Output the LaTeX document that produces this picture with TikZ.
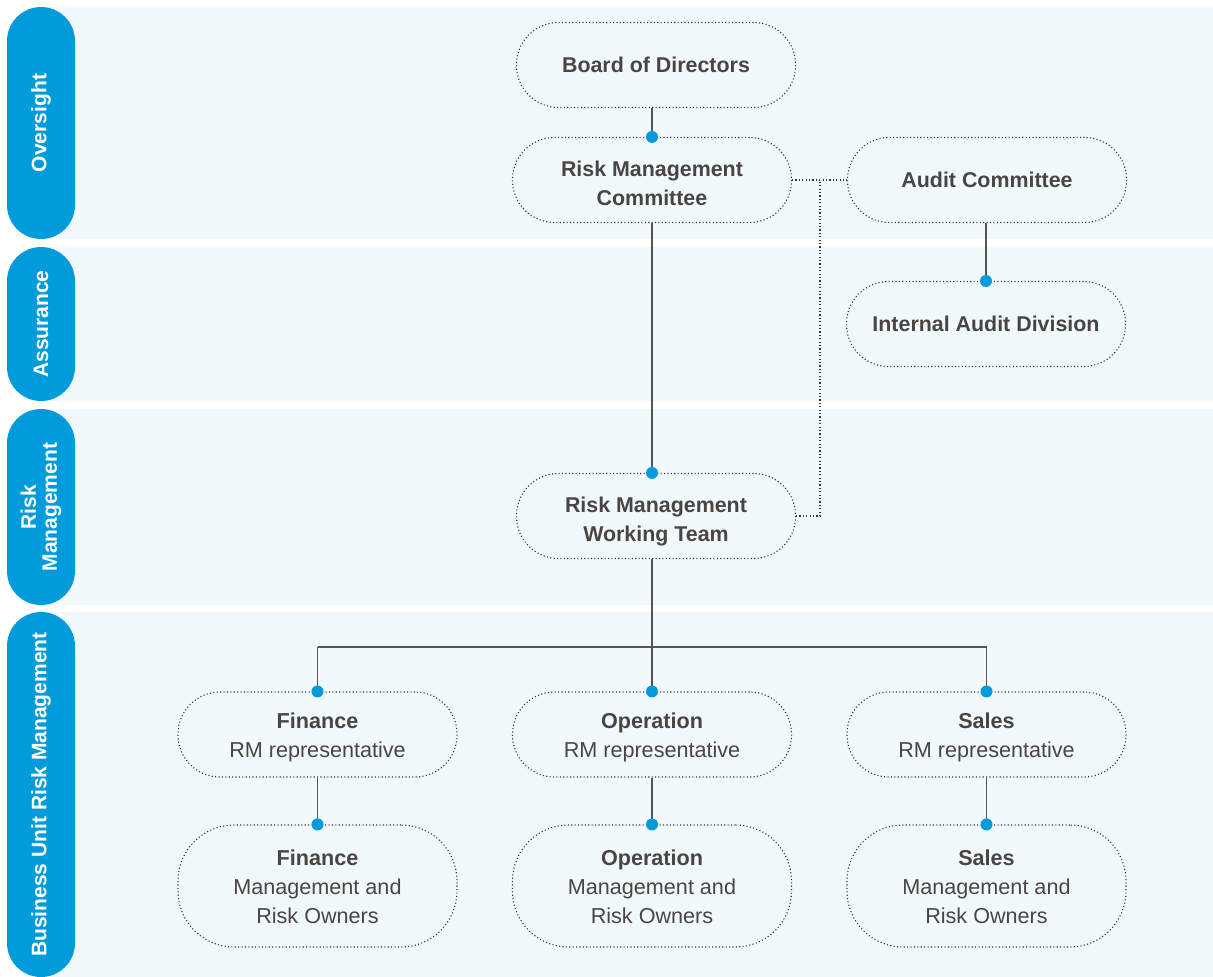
\documentclass[tikz,border=0pt]{standalone}
\usepackage{fontspec}
\setmainfont{Liberation Sans}
\usetikzlibrary{calc}

\definecolor{bandfill}{HTML}{F1F9FD}
\definecolor{pillblue}{HTML}{009BDB}
\definecolor{inkgray}{HTML}{4A4543}
\definecolor{linegray}{HTML}{58534F}
\definecolor{dotgray}{HTML}{333333}

\tikzset{
  band/.style={fill=bandfill, draw=none},
  pill/.style={rotate=90, fill=pillblue, text=white, rounded corners=34pt,
    minimum height=68pt, inner sep=0pt, align=center,
    font=\fontsize{21}{21}\selectfont\bfseries},
  unit/.style={draw=dotgray, line width=1.1pt, dash pattern=on 1.1pt off 2.3pt,
    rounded corners=42pt, minimum width=279pt, minimum height=85pt,
    inner sep=0pt, align=center, text=inkgray,
    font=\fontsize{21.6}{29}\selectfont},
  boldunit/.style={unit, font=\fontsize{21.4}{29}\selectfont\bfseries},
  tallunit/.style={unit, rounded corners=56pt, minimum height=122pt},
  % two-line text blocks sit a little lower than the plain box centre
  twoline/.style={text height=50.6pt},
  threeline/.style={text height=75.6pt},
  link/.style={draw=linegray, line width=1.3pt},
  dotlink/.style={draw=dotgray, line width=1.1pt, dash pattern=on 1.1pt off 2.3pt},
  joint/.style={fill=pillblue, draw=none}
}

\begin{document}
\begin{tikzpicture}[x=1pt, y=-1pt]
  \useasboundingbox (0,0) rectangle (1213,977);

  % horizontal bands behind the four tiers
  \fill[band] (41,7)   rectangle (1213,239);
  \fill[band] (41,247) rectangle (1213,401);
  \fill[band] (41,409) rectangle (1213,605);
  \fill[band] (41,612) rectangle (1213,977);

  % tier labels
  \node[pill, minimum width=232pt] (tOversight) at (41,123) {Oversight};
  \node[pill, minimum width=154pt] (tAssurance) at (41,324) {Assurance};
  \node[pill, minimum width=196pt] (tRisk) at (41,507) {Risk\\Management};
  \node[pill, minimum width=365pt] (tBusiness) at (41,794.5) {Business Unit Risk Management};

  % organisation units
  \node[boldunit] (board) at (656,65) {Board of Directors};
  \node[boldunit, twoline] (rmc) at (652,180) {Risk Management\\Committee};
  \node[boldunit] (audit) at (987,180) {Audit Committee};
  \node[boldunit] (iad) at (986,324) {Internal Audit Division};
  \node[boldunit, twoline, text depth=0pt] (rmwt) at (656,516) {Risk Management\\Working Team};

  \node[unit, twoline] (finrep) at (317.5,734.5) {\textbf{Finance}\\RM representative};
  \node[unit, twoline] (oprep)  at (652,734.5)   {\textbf{Operation}\\RM representative};
  \node[unit, twoline] (salrep) at (986.5,734.5) {\textbf{Sales}\\RM representative};

  \node[tallunit, threeline] (finown) at (317.5,886) {\textbf{Finance}\\Management and\\Risk Owners};
  \node[tallunit, threeline] (opown)  at (652,886)   {\textbf{Operation}\\Management and\\Risk Owners};
  \node[tallunit, threeline] (salown) at (986.5,886) {\textbf{Sales}\\Management and\\Risk Owners};

  % reporting lines
  \draw[link] (board.south -| rmc.north) -- (rmc.north);
  \draw[link] (rmc.south) -- (rmc.south |- rmwt.north);
  \draw[link] (iad.north |- audit.south) -- (iad.north);

  \coordinate (bus) at (652,647);
  \draw[link] (rmc.south |- rmwt.south) -- (bus);
  \draw[link] (finrep.north |- bus) -- (salrep.north |- bus);
  \draw[link] (finrep.north |- bus) -- (finrep.north);
  \draw[link] (oprep.north |- bus) -- (oprep.north);
  \draw[link] (salrep.north |- bus) -- (salrep.north);

  \draw[link] (finrep.south) -- (finown.north);
  \draw[link] (oprep.south) -- (opown.north);
  \draw[link] (salrep.south) -- (salown.north);

  % dotted advisory links
  \coordinate (tap) at (820,180);
  \draw[dotlink] (rmc.east) -- (audit.west);
  \draw[dotlink] (rmwt.east) -| (tap);

  % connection points
  \foreach \n in {rmc, iad, finrep, oprep, salrep, finown, opown, salown}
    \fill[joint] (\n.north) circle (6pt);
  \fill[joint] (rmc.south |- rmwt.north) circle (6pt);
\end{tikzpicture}
\end{document}
